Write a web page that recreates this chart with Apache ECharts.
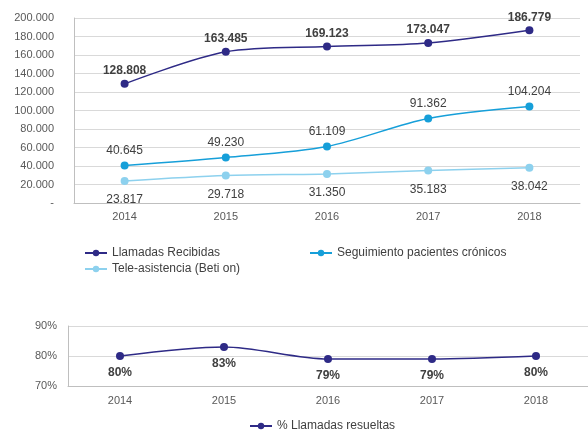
<!DOCTYPE html>
<html>
<head>
<meta charset="utf-8">
<script src="https://cdn.jsdelivr.net/npm/echarts@6/dist/echarts.min.js"></script>
<style>
  html, body { margin: 0; padding: 0; background: #fff; }
  #chart { width: 588px; height: 432px; }
</style>
</head>
<body>
<div id="chart"></div>
<script>
// datos
const years = ['2014', '2015', '2016', '2017', '2018'];
const llamadasRecibidas = [128808, 163485, 169123, 173047, 186779];
const seguimientoCronicos = [40645, 49230, 61109, 91362, 104204];
const teleAsistencia = [23817, 29718, 31350, 35183, 38042];
const pctResueltas = [80, 83, 79, 79, 80];

const cLlamadas = '#2E2A86';
const cSeguimiento = '#169FD9';
const cTele = '#8DD1EE';
const txt = '#404040';
const axisTxt = '#595959';
const font = 'Liberation Sans';

function miles(v) {
  if (v === 0) return '-';
  return String(v).replace(/\B(?=(\d{3})+(?!\d))/g, '.');
}

const myChart = echarts.init(document.getElementById('chart'));

function lineSerie(name, data, color, pos, bold, dist, xi, yi, fmt) {
  return {
    name: name,
    type: 'line',
    xAxisIndex: xi,
    yAxisIndex: yi,
    data: data,
    smooth: 0.3,
    symbol: 'circle',
    symbolSize: 8,
    lineStyle: { color: color, width: 1.5 },
    itemStyle: { color: color },
    label: {
      show: true,
      position: pos,
      distance: dist,
      color: txt,
      fontFamily: font,
      fontSize: 12,
      fontWeight: bold ? 'bold' : 'normal',
      formatter: fmt
    }
  };
}

function leyenda(name, left, top) {
  return {
    data: [name],
    left: left,
    top: top,
    itemWidth: 22,
    itemHeight: 8,
    padding: 0,
    textStyle: { color: txt, fontFamily: font, fontSize: 12 }
  };
}

const option = {
  animation: false,
  textStyle: { fontFamily: font },
  grid: [
    { left: 74, right: 8, top: 18, bottom: 229 },
    { left: 68, right: 0, top: 326, bottom: 46 }
  ],
  legend: [
    leyenda('Llamadas Recibidas', 84, 247),
    leyenda('Seguimiento pacientes crónicos', 309, 247),
    leyenda('Tele-asistencia (Beti on)', 84, 263),
    leyenda('% Llamadas resueltas', 249, 420)
  ],
  xAxis: [
    {
      type: 'category', gridIndex: 0, data: years,
      axisLine: { lineStyle: { color: '#BFBFBF' } },
      axisTick: { alignWithLabel: true, length: 4, lineStyle: { color: '#BFBFBF' } },
      axisLabel: { color: axisTxt, fontSize: 11, margin: 8 }
    },
    {
      type: 'category', gridIndex: 1, data: years,
      axisLine: { lineStyle: { color: '#BFBFBF' } },
      axisTick: { alignWithLabel: true, length: 4, lineStyle: { color: '#BFBFBF' } },
      axisLabel: { color: axisTxt, fontSize: 11, margin: 9 }
    }
  ],
  yAxis: [
    {
      type: 'value', gridIndex: 0, min: 0, max: 200000, interval: 20000,
      axisLine: { show: true, lineStyle: { color: '#BFBFBF' } },
      splitLine: { lineStyle: { color: '#D9D9D9' } },
      axisLabel: { color: axisTxt, fontSize: 11, margin: 20, formatter: miles }
    },
    {
      type: 'value', gridIndex: 1, min: 70, max: 90, interval: 10,
      axisLine: { show: true, lineStyle: { color: '#BFBFBF' } },
      splitLine: { lineStyle: { color: '#D9D9D9' } },
      axisLabel: { color: axisTxt, fontSize: 11, margin: 11, formatter: '{value}%' }
    }
  ],
  series: [
    lineSerie('Llamadas Recibidas', llamadasRecibidas, cLlamadas, 'top', true, 3, 0, 0,
      p => miles(p.value)),
    lineSerie('Seguimiento pacientes crónicos', seguimientoCronicos, cSeguimiento, 'top', false, 5, 0, 0,
      p => miles(p.value)),
    lineSerie('Tele-asistencia (Beti on)', teleAsistencia, cTele, 'bottom', false, 9, 0, 0,
      p => miles(p.value)),
    lineSerie('% Llamadas resueltas', pctResueltas, cLlamadas, 'bottom', true, 7, 1, 1,
      p => p.value + '%')
  ]
};

myChart.setOption(option);
</script>
</body>
</html>
